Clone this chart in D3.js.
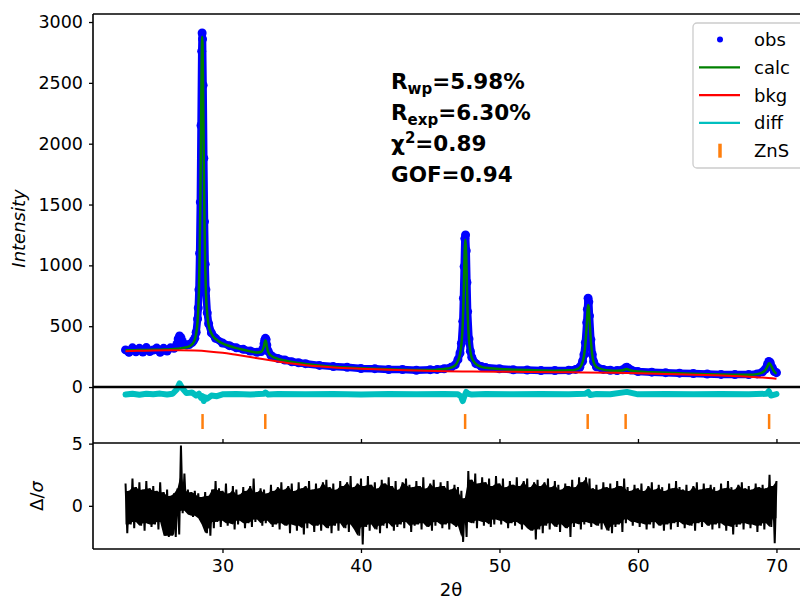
<!DOCTYPE html>
<html>
<head>
<meta charset="utf-8">
<script src="https://cdn.jsdelivr.net/npm/d3@7"></script>
<style>
  body { margin: 0; background: #fff; }
  text { font-family: "DejaVu Sans", sans-serif; }
</style>
</head>
<body>
<div id="chart"></div>
<script>
// 2theta grid of the observed / calculated pattern
const tth = [23.0,23.25,23.5,23.75,24.0,24.25,24.5,24.75,25.0,25.25,25.5,25.75,26.0,26.25,26.5,26.7,26.8,26.9,27.0,27.1,27.2,27.4,27.6,27.8,27.9,
  28.0,28.1,28.2,28.25,28.3,28.35,28.4,28.45,28.5,28.53,28.56,28.6,28.65,28.7,28.75,28.8,28.9,29.0,29.2,29.5,30.0,30.5,31.0,31.5,32.0,32.5,32.8,
  32.9,33.0,33.05,33.1,33.15,33.2,33.3,33.5,34.0,34.5,35.0,35.5,36.0,37.0,38.0,39.0,40.0,41.0,42.0,43.0,44.0,45.0,45.5,46.0,46.5,46.8,
  47.0,47.15,47.25,47.35,47.4,47.45,47.5,47.55,47.6,47.65,47.7,47.8,47.9,48.0,48.3,48.7,49.0,50.0,51.0,52.0,53.0,54.0,55.0,55.5,55.8,
  56.0,56.1,56.2,56.3,56.35,56.4,56.45,56.5,56.6,56.7,56.8,57.0,57.5,58.0,58.5,58.9,59.1,59.2,59.3,59.5,60.0,61.0,62.0,63.0,64.0,65.0,
  66.0,67.0,68.0,68.6,69.0,69.2,69.35,69.45,69.55,69.7,69.85,70.0];
const obs = [305,285,322,290,318,288,324,292,304,320,286,318,296,322,318,350,395,420,405,375,352,345,350,365,380,
  400,450,560,650,800,1100,1520,2150,2760,2910,2860,2480,1880,1360,1010,800,610,520,445,400,362,340,322,310,296,285,292,
  310,355,385,400,390,345,295,260,235,222,208,200,192,178,168,162,152,151,144,144,138,143,145,150,162,182,
  225,280,360,540,730,990,1220,1250,1120,860,620,395,295,245,192,168,160,150,142,140,135,136,138,145,163,
  212,265,365,530,640,730,700,585,390,268,208,167,145,138,136,142,158,162,155,140,128,122,118,114,111,107,
  104,102,102,108,125,148,185,210,200,160,128,118];
const calc = [302,302,303,303,304,304,305,305,306,306,307,308,309,310,312,314,315,316,318,320,322,327,335,350,365,
  390,440,540,640,800,1080,1500,2100,2700,2880,2820,2450,1850,1350,1000,790,600,510,440,395,358,337,320,306,293,283,290,
  305,340,370,385,372,335,288,258,232,218,206,198,190,177,167,160,155,150,146,142,140,141,143,148,160,178,
  215,270,350,520,700,950,1150,1210,1080,840,610,390,290,240,190,166,158,148,143,139,136,134,137,143,160,
  205,255,350,510,610,675,650,560,380,265,205,165,143,136,134,138,146,148,144,136,127,121,117,113,110,106,
  103,101,101,106,120,140,170,195,188,155,125,108];

// background curve
const bkgX = [23,24,25,26,27,28,29,30,31,32,33,34,35,36,37,38,40,42,44,46,48,50,52,54,56,58,60,62,64,66,68,69,70];
const bkgY = [295,298,300,302,303,300,293,282,265,247,228,210,193,180,170,161,150,142,135,130,128,126,124,122,120,118,114,108,101,94,85,78,68];

// difference curve (offset below zero)
const diffX = [23.0,23.5,24.0,24.5,25.0,25.5,26.0,26.4,26.7,26.9,27.1,27.4,27.8,28.1,28.3,28.45,28.55,28.65,28.75,28.9,29.2,29.6,30,31,32,
  33.0,33.1,33.3,34,36,38,40,42,44,46,47.0,47.2,47.35,47.45,47.6,47.75,48,49,51,53,55,56.2,56.4,56.55,57,58,59.2,60,62,64,66,68,69.3,69.45,69.6,70];
const diffY = [-62,-55,-63,-56,-60,-54,-62,-55,-20,30,-10,-50,-45,-70,-55,-90,-75,-115,-85,-95,-70,-75,-60,-58,-62,
  -55,-45,-62,-58,-60,-57,-62,-58,-60,-57,-60,-75,-115,-80,-40,-55,-62,-58,-60,-57,-60,-55,-40,-65,-58,-60,-40,-60,-57,-60,-57,-60,-55,-35,-70,-58];

// ZnS reflection positions
const znsPos = [28.56, 33.09, 47.52, 56.37, 59.11, 69.47];

// delta/sigma envelope, 23.0 to 70.0 every 0.25 deg
const dsStart = 23.0, dsStep = 0.25;
const dsUpper = [1.8,1.2,2.2,1.5, 1.9,1.3,2.0,1.4, 1.6,1.2,1.9,1.1, 1.3,0.8,1.0,1.4, 4.85,2.6,1.3,1.1, 1.2,1.0,0.7,1.1,
  0.8,1.3,2.0,1.4, 1.2,1.8,1.0,1.6, 1.3,0.9,1.5,1.2, 1.6,2.2,1.1,1.4, 1.3,1.0,1.7,1.2, 1.5,1.9,1.3,1.6, 1.8,1.2,1.9,1.4,
  1.6,2.0,1.3,1.8, 1.4,1.9,2.1,1.5, 1.8,1.3,2.0,1.6, 1.9,2.4,1.5,1.8, 2.2,1.6,2.4,1.7, 1.9,1.4,2.1,1.8, 2.3,1.6,2.0,1.3,
  1.9,2.2,1.7,1.5, 2.0,1.6,2.3,1.4, 1.8,2.1,1.5,1.9, 1.6,2.0,1.3,1.7, 1.5,1.2,0.6,2.8, 2.1,2.6,1.8,2.3, 1.9,2.2,1.6,2.4,
  1.8,2.2,1.5,2.0, 1.7,2.3,1.6,2.0, 2.2,1.5,1.9,2.1, 1.6,1.9,2.2,1.5, 2.0,1.7,1.3,1.8, 1.6,2.1,1.5,2.3, 1.9,2.3,2.2,1.4,
  1.7,1.3,1.9,1.5, 1.8,1.4,2.0,1.6, 2.2,1.5,1.2,1.7, 1.4,1.8,1.2,1.6, 1.9,1.3,1.7,1.5, 1.2,1.8,1.4,2.0, 1.5,1.3,1.7,1.2,
  1.6,1.9,1.3,1.8, 1.4,1.7,1.5,1.2, 1.8,1.4,2.0,1.5, 1.3,1.7,1.9,1.4, 1.6,1.3,1.8,1.5, 1.7,1.4,2.5,1.6, 2.0];
const dsLower = [-2.2,-1.5,-1.8,-1.3, -1.6,-2.0,-1.4,-1.7, -1.5,-1.9,-1.3,-2.4, -2.5,-2.4,-2.5,-2.3, -0.6,-0.4,-0.7,-0.9,
  -0.8,-1.0,-1.5,-2.2, -2.4,-1.8,-1.3,-1.7, -1.2,-1.6,-1.4,-1.9, -1.5,-1.2,-1.8,-1.4, -1.7,-1.3,-1.1,-1.6, -1.4,-1.2,-1.7,-1.5,
  -1.9,-1.4,-1.6,-2.2, -1.5,-2.0,-1.6,-2.3, -1.8,-1.4,-2.1,-1.6, -2.0,-1.5,-1.8,-2.2, -1.6,-2.0,-1.4,-1.8, -2.1,-1.5,-1.9,-2.4,
  -3.1,-1.7,-2.0,-1.5, -1.9,-2.2,-1.6,-1.8, -1.4,-2.0,-1.7,-1.5, -1.8,-1.3,-2.1,-1.6, -1.5,-1.9,-1.4,-1.7, -2.0,-1.6,-1.3,-1.8,
  -1.5,-1.9,-1.4,-1.7, -1.6,-2.9,-2.5,-1.3, -1.4,-1.8,-1.2,-1.6, -1.3,-1.7,-1.5,-1.1, -1.5,-1.2,-1.8,-1.4, -1.6,-1.3,-1.9,-1.5,
  -1.8,-2.0,-2.7,-1.9, -2.2,-1.6,-1.9,-1.4, -1.7,-2.1,-1.5,-1.8, -2.5,-1.7,-1.4,-1.9, -1.5,-1.3,-1.7,-1.4, -1.6,-1.9,-1.4,-2.0,
  -2.2,-1.7,-1.5,-2.1, -1.4,-1.1,-1.6,-1.3, -1.7,-1.4,-1.9,-1.5, -1.8,-1.3,-1.6,-2.0, -1.5,-1.9,-1.4,-1.7, -1.3,-1.8,-1.5,-1.6,
  -2.0,-1.4,-1.7,-1.3, -1.6,-1.9,-1.5,-1.8, -1.4,-2.0,-1.6,-2.3, -1.7,-1.5,-1.9,-1.4, -1.8,-1.5,-2.1,-1.6, -1.9,-1.4,-1.7,-3.0, -1.0];

const xTicks = [30, 40, 50, 60, 70];
const yTicksTop = [0, 500, 1000, 1500, 2000, 2500, 3000];
const yTicksBot = [0, 5];
const legendItems = ['obs', 'calc', 'bkg', 'diff', 'ZnS'];

const width = 800, height = 600;
const left = 93, right = 809;
const topY = 14, midY = 443, botY = 549;

const svg = d3.select('#chart').append('svg')
    .attr('width', width)
    .attr('height', height);

const x = d3.scaleLinear().domain([20.65, 72.35]).range([left, right]);
const yT = d3.scaleLinear().domain([-460, 3066]).range([midY, topY]);
const yB = d3.scaleLinear().domain([-3.47, 5.05]).range([botY, midY]);

const pts = tth.map((t, i) => ({ t: t, o: obs[i], c: calc[i] }));

// observed: band + dots
svg.append('path')
    .datum(pts)
    .attr('d', d3.line().x(d => x(d.t)).y(d => yT(d.o)))
    .attr('fill', 'none')
    .attr('stroke', '#0000ff')
    .attr('stroke-width', 7.5)
    .attr('stroke-linejoin', 'round')
    .attr('stroke-linecap', 'round');
svg.append('g')
    .selectAll('circle')
    .data(pts)
    .enter().append('circle')
    .attr('cx', d => x(d.t))
    .attr('cy', d => yT(d.o))
    .attr('r', 4.5)
    .style('fill', '#0000ff');

// calc
svg.append('path')
    .datum(pts)
    .attr('d', d3.line().x(d => x(d.t)).y(d => yT(d.c)).curve(d3.curveMonotoneX))
    .attr('fill', 'none')
    .attr('stroke', '#008000')
    .attr('stroke-width', 2.5);

// background
svg.append('path')
    .datum(bkgX.map((t, i) => [t, bkgY[i]]))
    .attr('d', d3.line().x(d => x(d[0])).y(d => yT(d[1])).curve(d3.curveMonotoneX))
    .attr('fill', 'none')
    .attr('stroke', '#ff0000')
    .attr('stroke-width', 2);

// difference
svg.append('path')
    .datum(diffX.map((t, i) => [t, diffY[i]]))
    .attr('d', d3.line().x(d => x(d[0])).y(d => yT(d[1])))
    .attr('fill', 'none')
    .attr('stroke', '#00bfbf')
    .attr('stroke-width', 6)
    .attr('stroke-linejoin', 'round')
    .attr('stroke-linecap', 'round');

// zero line
svg.append('line')
    .attr('x1', left).attr('x2', width)
    .attr('y1', yT(0)).attr('y2', yT(0))
    .attr('stroke', '#000').attr('stroke-width', 2.5);

// ZnS reflection ticks
svg.append('g')
    .selectAll('line')
    .data(znsPos)
    .enter().append('line')
    .attr('x1', d => x(d)).attr('x2', d => x(d))
    .attr('y1', yT(-222)).attr('y2', yT(-345))
    .attr('stroke', '#ff7f0e')
    .attr('stroke-width', 2.5);

// delta / sigma panel
const ds = dsUpper.map((u, i) => ({ t: dsStart + i * dsStep, u: u, l: dsLower[i] }));
// dense core: the band that neighbouring samples share
svg.append('path')
    .datum(ds)
    .attr('d', d3.area()
        .x(d => x(d.t))
        .y0((d, i) => yB(Math.max(d.l, ds[Math.min(i + 1, ds.length - 1)].l)))
        .y1((d, i) => yB(Math.min(d.u, ds[Math.min(i + 1, ds.length - 1)].u))))
    .attr('fill', '#000');
// spikes: zigzag between upper and lower values
const dsPts = [];
ds.forEach(d => {
    dsPts.push([d.t, d.u]);
    dsPts.push([d.t + dsStep / 2, d.l]);
});
dsPts.pop();
svg.append('path')
    .datum(dsPts)
    .attr('d', d3.line().x(d => x(d[0])).y(d => yB(d[1])))
    .attr('fill', 'none')
    .attr('stroke', '#000')
    .attr('stroke-width', 2)
    .attr('stroke-linejoin', 'bevel');

// axes
const axStyle = g => {
    g.select('.domain').remove();
    g.selectAll('line').attr('stroke', '#000').attr('stroke-width', 1.3);
    g.selectAll('text').attr('font-size', '17.5px').attr('fill', '#000')
        .attr('font-family', '"DejaVu Sans", sans-serif');
};

svg.append('g')
    .attr('transform', 'translate(' + left + ',0)')
    .call(d3.axisLeft(yT).tickValues(yTicksTop).tickFormat(d3.format('d')).tickSize(4).tickPadding(6))
    .call(axStyle);

svg.append('g')
    .attr('transform', 'translate(' + left + ',0)')
    .call(d3.axisLeft(yB).tickValues(yTicksBot).tickFormat(d3.format('d')).tickSize(4).tickPadding(6))
    .call(axStyle);

svg.append('g')
    .attr('transform', 'translate(0,' + botY + ')')
    .call(d3.axisBottom(x).tickValues(xTicks).tickSize(4).tickPadding(7))
    .call(axStyle);

svg.append('g')
    .attr('transform', 'translate(0,' + midY + ')')
    .call(d3.axisTop(x).tickValues(xTicks).tickSize(4).tickFormat(''))
    .call(axStyle);

// spines
const spine = (x1, y1, x2, y2) => svg.append('line')
    .attr('x1', x1).attr('y1', y1).attr('x2', x2).attr('y2', y2)
    .attr('stroke', '#000').attr('stroke-width', 1.6);
spine(left, topY, left, botY);
spine(left, topY, width, topY);
spine(left, midY, width, midY);
spine(left, botY, width, botY);

// axis labels
svg.append('text')
    .attr('transform', 'translate(25,' + ((topY + midY) / 2) + ') rotate(-90)')
    .attr('text-anchor', 'middle')
    .attr('font-size', '18px')
    .attr('font-style', 'italic')
    .text('Intensity');

const dsLab = svg.append('text')
    .attr('transform', 'translate(43,' + ((midY + botY) / 2) + ') rotate(-90)')
    .attr('text-anchor', 'middle')
    .attr('font-size', '18px');
dsLab.append('tspan').text('Δ/');
dsLab.append('tspan').attr('font-style', 'italic').text('σ');

svg.append('text')
    .attr('x', (left + right) / 2)
    .attr('y', 596)
    .attr('text-anchor', 'middle')
    .attr('font-size', '18px')
    .text('2θ');

// statistics
const statFont = '"Liberation Sans", Arial, sans-serif';
const stat = (yb, main, sub, sup, rest) => {
    const t = svg.append('text')
        .attr('x', 391).attr('y', yb)
        .attr('font-family', statFont)
        .attr('font-weight', 'bold')
        .attr('font-size', '21.5px');
    t.append('tspan').text(main);
    if (sub) t.append('tspan').attr('font-size', '15px').attr('dy', 5).text(sub);
    if (sup) t.append('tspan').attr('font-size', '15px').attr('dy', -8).text(sup);
    t.append('tspan').attr('dy', sub ? -5 : (sup ? 8 : 0)).text(rest);
};
stat(89, 'R', 'wp', null, '=5.98%');
stat(120, 'R', 'exp', null, '=6.30%');
stat(151, 'χ', null, '2', '=0.89');
stat(182, 'GOF=0.94', null, null, '');

// legend
const lg = svg.append('g');
lg.append('rect')
    .attr('x', 693).attr('y', 23)
    .attr('width', 112).attr('height', 145)
    .attr('rx', 4)
    .attr('fill', '#fff').attr('fill-opacity', 0.8)
    .attr('stroke', '#cccccc').attr('stroke-width', 1.3);
const lgColors = ['#0000ff', '#008000', '#ff0000', '#00bfbf', '#ff7f0e'];
legendItems.forEach((name, i) => {
    const cy = 39.5 + i * 27.8;
    if (i === 0) {
        lg.append('circle').attr('cx', 720).attr('cy', cy).attr('r', 3).attr('fill', lgColors[i]);
    } else if (i === 4) {
        lg.append('line').attr('x1', 720).attr('x2', 720).attr('y1', cy - 7).attr('y2', cy + 7)
            .attr('stroke', lgColors[i]).attr('stroke-width', 3.5);
    } else {
        lg.append('line').attr('x1', 699).attr('x2', 740).attr('y1', cy).attr('y2', cy)
            .attr('stroke', lgColors[i]).attr('stroke-width', 2.2);
    }
    lg.append('text')
        .attr('x', 754).attr('y', cy + 6.5)
        .attr('font-size', '18px')
        .text(name);
});
</script>
</body>
</html>
